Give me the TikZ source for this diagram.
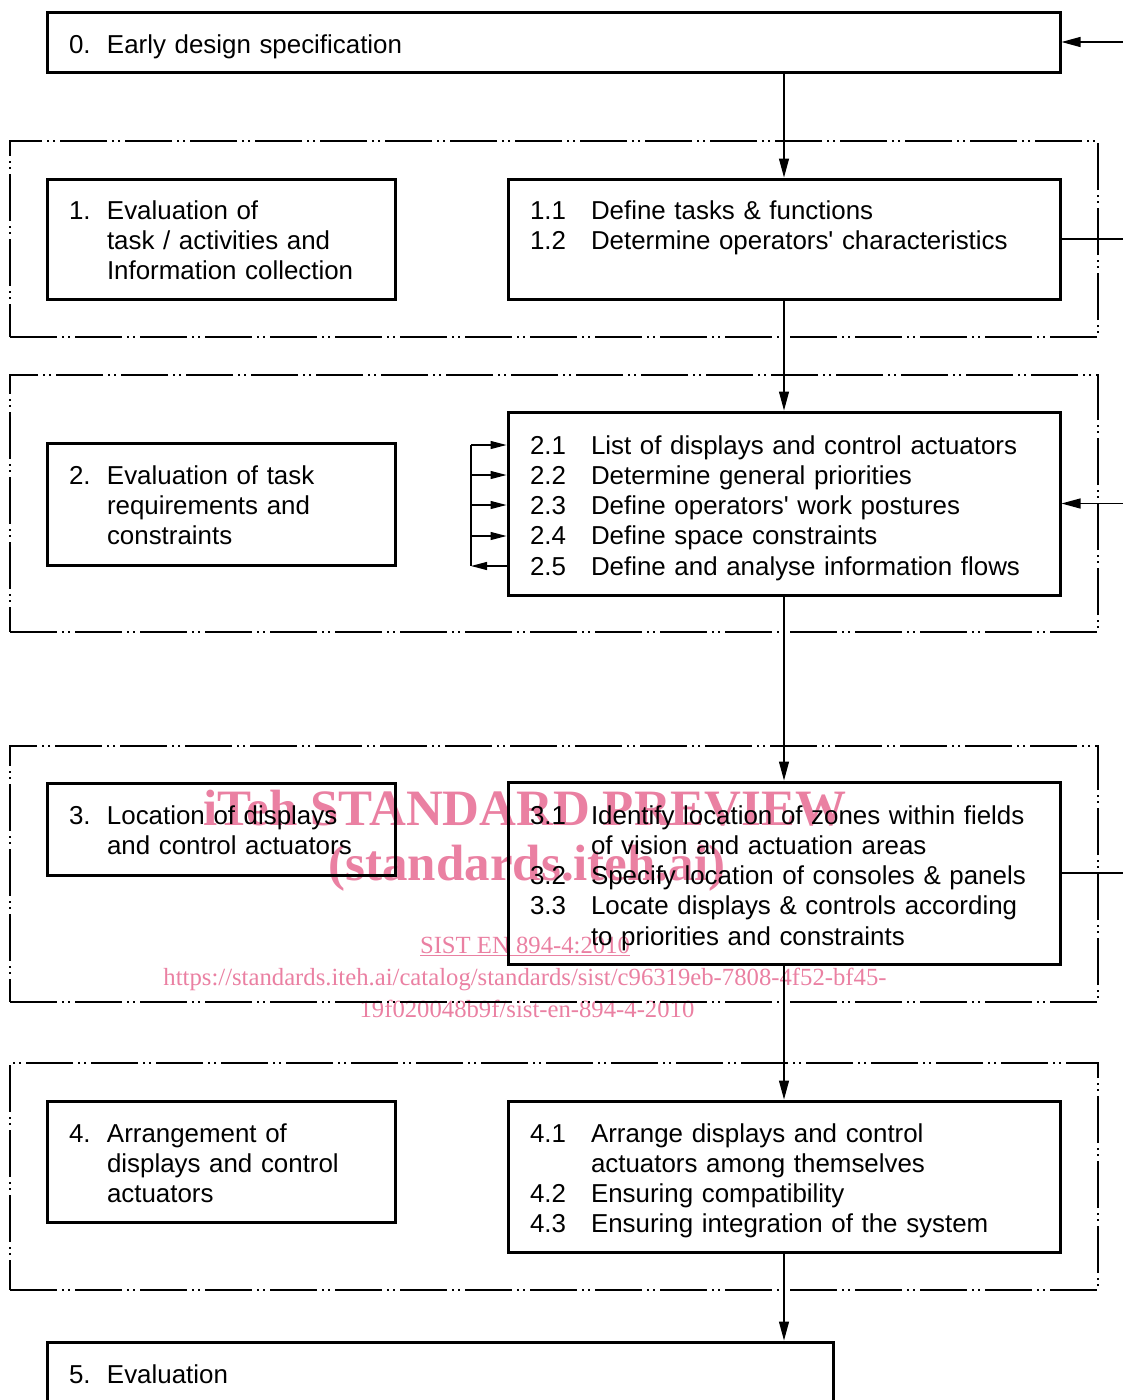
\documentclass[tikz,border=0pt]{standalone}
\usepackage{fontspec}
\setmainfont{Liberation Sans}
\newfontfamily\wmfont{Liberation Serif}
\usetikzlibrary{arrows.meta}
\definecolor{wmpink}{RGB}{234,128,162}
\newcommand\nL[1]{\makebox[38pt][l]{#1}}
\newcommand\nR[1]{\makebox[61pt][l]{#1}}
\begin{document}
\begin{tikzpicture}[x=1pt,y=-1pt,
  box/.style={draw, line width=3pt, inner sep=0pt, rectangle},
  frame/.style={draw, line width=1.5pt, inner sep=0pt, rectangle, dash pattern=on 47pt off 5pt on 2pt off 4pt on 2pt off 5pt},
  txtL/.style={anchor=base west, inner sep=0pt, outer sep=0pt, align=left, text width=330pt, font=\fontsize{25.9}{30.25}\selectfont},
  txtR/.style={anchor=base west, inner sep=0pt, outer sep=0pt, align=left, text width=530pt, font=\fontsize{25.9}{30.25}\selectfont},
  conn/.style={line width=1.2pt},
  arr/.style={conn, -{Triangle[length=19pt,width=10pt]}},
  sarr/.style={conn, -{Triangle[length=16pt,width=8pt]}},
  wmbig/.style={text=wmpink, anchor=base, inner sep=0pt, font=\wmfont\bfseries\fontsize{51}{51}\selectfont},
  wmsmall/.style={text=wmpink, anchor=base, inner sep=0pt, font=\wmfont\fontsize{24.7}{25}\selectfont}]
\useasboundingbox (0,0) rectangle (1123,1400);
\clip (0,0) rectangle (1123,1400);

% watermark (behind)
\node[wmbig] (wm1) at (525,825) {iTeh STANDARD PREVIEW};
\node[wmbig] (wm2) at (527,880) {(standards.iteh.ai)};
\node[wmsmall] (wm3) at (525,953) {\underline{SIST EN 894-4:2010}};
\node[wmsmall] (wm4) at (525,985) {https://standards.iteh.ai/catalog/standards/sist/c96319eb-7808-4f52-bf45-};
\node[wmsmall] (wm5) at (527,1017) {19f020048b9f/sist-en-894-4-2010};

% group frames
\node[frame, minimum width=1088pt, minimum height=196pt] (g1) at (554,239) {};
\node[frame, minimum width=1088pt, minimum height=257pt] (g2) at (554,503.5) {};
\node[frame, minimum width=1088pt, minimum height=256pt] (g3) at (554,874) {};
\node[frame, minimum width=1088pt, minimum height=227pt] (g4) at (554,1176.5) {};

% boxes
\node[box, minimum width=1013pt, minimum height=60pt] (b0) at (553.5,42.5) {};
\node[box, minimum width=348pt, minimum height=120pt] (b1) at (221,239) {};
\node[box, minimum width=552pt, minimum height=120pt] (b11) at (784,239) {};
\node[box, minimum width=348pt, minimum height=122pt] (b2) at (221,504) {};
\node[box, minimum width=552pt, minimum height=183pt] (b21) at (784,503.5) {};
\node[box, minimum width=348pt, minimum height=92pt] (b3) at (221,829) {};
\node[box, minimum width=552pt, minimum height=182pt] (b31) at (784,873) {};
\node[box, minimum width=348pt, minimum height=121pt] (b4) at (221,1161.5) {};
\node[box, minimum width=552pt, minimum height=151pt] (b41) at (784,1176.5) {};
\node[box, minimum width=786pt, minimum height=100pt] (b5) at (440,1392) {};

% texts
\node[txtR] (t0) at (69,53) {\nL{0.}Early design specification};
\node[txtL] (t1) at (69,219) {\nL{1.}Evaluation of\\\hspace*{38pt}task / activities and\\\hspace*{38pt}Information collection};
\node[txtR] (t11) at (530,219) {\nR{1.1}Define tasks \& functions\\\nR{1.2}Determine operators\textquotesingle{} characteristics};
\node[txtL] (t2) at (69,484) {\nL{2.}Evaluation of task\\\hspace*{38pt}requirements and\\\hspace*{38pt}constraints};
\node[txtR] (t21) at (530,454) {\nR{2.1}List of displays and control actuators\\\nR{2.2}Determine general priorities\\\nR{2.3}Define operators\textquotesingle{} work postures\\\nR{2.4}Define space constraints\\\nR{2.5}Define and analyse information flows};
\node[txtL] (t3) at (69,824) {\nL{3.}Location of displays\\\hspace*{38pt}and control actuators};
\node[txtR] (t31) at (530,824) {\nR{3.1}Identify location of zones within fields\\\hspace*{61pt}of vision and actuation areas\\\nR{3.2}Specify location of consoles \& panels\\\nR{3.3}Locate displays \& controls according\\\hspace*{61pt}to priorities and constraints};
\node[txtL] (t4) at (69,1142) {\nL{4.}Arrangement of\\\hspace*{38pt}displays and control\\\hspace*{38pt}actuators};
\node[txtR] (t41) at (530,1142) {\nR{4.1}Arrange displays and control\\\hspace*{61pt}actuators among themselves\\\nR{4.2}Ensuring compatibility\\\nR{4.3}Ensuring integration of the system};
\node[txtL] (t5) at (69,1383) {\nL{5.}Evaluation};

% main flow
\draw[arr] (b11.north |- b0.south) -- (b11.north);
\draw[arr] (b11.south) -- (b21.north);
\draw[arr] (b21.south) -- (b31.north);
\draw[arr] (b31.south) -- (b41.north);
\draw[arr] (b41.south) -- (b41.south |- b5.north);

% right side connections
\coordinate (in0) at (1123,42);
\coordinate (out1) at (1123,239);
\coordinate (in2) at (1123,503.5);
\coordinate (out3) at (1123,873);
\draw[arr] (in0) -- (in0 -| b0.east);
\draw[conn] (b11.east) -- (out1);
\draw[arr] (in2) -- (b21.east);
\draw[conn] (b31.east) -- (out3);

% feedback loop at 2.x
\coordinate (l1) at (471,445);
\coordinate (l2) at (471,475);
\coordinate (l3) at (471,505);
\coordinate (l4) at (471,536);
\coordinate (l5) at (471,566);
\draw[conn] (l1) -- (l5);
\draw[sarr] (l1) -- (l1 -| b21.west);
\draw[sarr] (l2) -- (l2 -| b21.west);
\draw[sarr] (l3) -- (l3 -| b21.west);
\draw[sarr] (l4) -- (l4 -| b21.west);
\draw[sarr] (l5 -| b21.west) -- (l5);
\end{tikzpicture}
\end{document}
